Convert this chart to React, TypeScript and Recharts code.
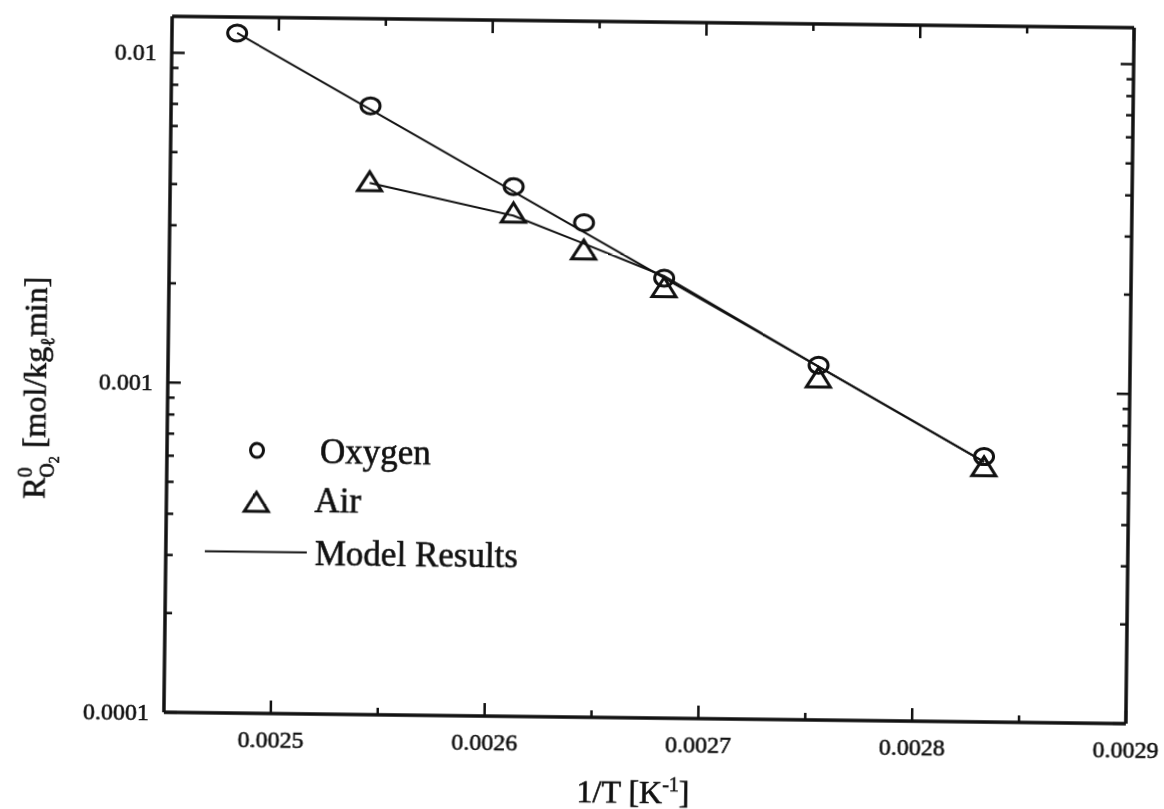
import React from 'react';
import { ComposedChart, XAxis, YAxis, Line, Scatter } from 'recharts';

// ---- data ----
const invT = [0.0024805, 0.0025433, 0.0026107, 0.0026438, 0.0026816, 0.0027543, 0.0028322];
const oxygenRate = [0.01154, 0.00702, 0.00404, 0.00316, 0.00216, 0.00119, 0.000638];
const airInvT = [0.0025433, 0.0026107, 0.0026438, 0.0026816, 0.0027543, 0.0028322];
const airRate = [0.00413, 0.00336, 0.00261, 0.00202, 0.00109, 0.000594];
const oxygenModel = [0.01154, 0.00684, 0.0039, 0.00296, 0.00216, 0.00118, 0.000615];
const airModel = [0.0041, 0.0033, 0.00273, 0.00219, 0.00118, 0.000615];

const xMajorTicks = [0.0025, 0.0026, 0.0027, 0.0028, 0.0029];
const xTickLabels = ['0.0025', '0.0026', '0.0027', '0.0028', '0.0029'];
const xMinorTicks = [0.00255, 0.00265, 0.00275, 0.00285];
const yMajorTicks = [0.0001, 0.001, 0.01];
const yTickLabels = ['0.0001', '0.001', '0.01'];
const yMinorTicks = [
  0.0002, 0.0003, 0.0004, 0.0005, 0.0006, 0.0007, 0.0008, 0.0009,
  0.002, 0.003, 0.004, 0.005, 0.006, 0.007, 0.008, 0.009,
];
const xDomain = [0.00245, 0.0029];
const yDomain = [0.0001, 0.0129];

const oxygenPoints = invT.map((x, i) => ({ x, y: oxygenRate[i] }));
const airPoints = airInvT.map((x, i) => ({ x, y: airRate[i] }));
const oxygenModelPts = invT.map((x, i) => ({ x, y: oxygenModel[i] }));
const airModelPts = airInvT.map((x, i) => ({ x, y: airModel[i] }));

const xTicksAll = [...xMajorTicks, ...xMinorTicks].sort((a, b) => a - b);
const yTicksAll = [...yMajorTicks, ...yMinorTicks].sort((a, b) => a - b);

const FONT = '"Liberation Serif", "Times New Roman", serif';
const INK = '#111';
const TEXT_STROKE = 0.6;

const majorIndex = (list: number[], v: number) =>
  list.findIndex((m) => Math.abs(v / m - 1) < 1e-6);

const XTickBottom = (props: any) => {
  const { x, y, payload } = props;
  const i = majorIndex(xMajorTicks, payload.value);
  const len = i >= 0 ? 13 : 7;
  return (
    <g>
      <line x1={x} x2={x} y1={y} y2={y - len} stroke={INK} strokeWidth={2.5} />
      {i >= 0 && (
        <text x={x} y={y + 34} textAnchor="middle" fontFamily={FONT} fontSize={24} fill={INK}
          stroke={INK} strokeWidth={TEXT_STROKE}>
          {xTickLabels[i]}
        </text>
      )}
    </g>
  );
};

const XTickTop = (props: any) => {
  const { x, y, payload } = props;
  const i = majorIndex(xMajorTicks, payload.value);
  const len = i >= 0 ? 13 : 7;
  return <line x1={x} x2={x} y1={y} y2={y + len} stroke={INK} strokeWidth={2.5} />;
};

const YTickLeft = (props: any) => {
  const { x, y, payload } = props;
  const i = majorIndex(yMajorTicks, payload.value);
  const len = i >= 0 ? 13 : 7;
  return (
    <g>
      <line x1={x} x2={x + len} y1={y} y2={y} stroke={INK} strokeWidth={2.5} />
      {i >= 0 && (
        <text x={x - 15} y={y + 8} textAnchor="end" fontFamily={FONT} fontSize={24} fill={INK}
          stroke={INK} strokeWidth={TEXT_STROKE}>
          {yTickLabels[i]}
        </text>
      )}
    </g>
  );
};

const YTickRight = (props: any) => {
  const { x, y, payload } = props;
  const i = majorIndex(yMajorTicks, payload.value);
  const len = i >= 0 ? 13 : 7;
  return <line x1={x} x2={x - len} y1={y} y2={y} stroke={INK} strokeWidth={2.5} />;
};

const CircleMark = (props: any) => {
  const { cx, cy } = props;
  return <ellipse cx={cx} cy={cy} rx={9.5} ry={8} fill="none" stroke={INK} strokeWidth={3} />;
};

const TriangleMark = (props: any) => {
  const { cx, cy } = props;
  const d = `M${cx},${cy - 10} L${cx + 12},${cy + 9} L${cx - 12},${cy + 9} Z`;
  return <path d={d} fill="none" stroke={INK} strokeWidth={3} strokeLinejoin="miter" />;
};

const axisLine = { stroke: INK, strokeWidth: 3.5 };

export default function App() {
  return (
    <div
      style={{
        position: 'fixed',
        left: 0,
        top: 0,
        width: 1164,
        height: 809,
        transform: 'rotate(0.68deg)',
        transformOrigin: '649px 370px',
      }}
    >
      <div style={{ position: 'absolute', left: 0, top: 0 }}>
        <ComposedChart width={1164} height={809} margin={{ top: 21, right: 33, bottom: 31, left: 98 }}>
          <XAxis
            xAxisId="b"
            dataKey="x"
            type="number"
            domain={xDomain}
            allowDataOverflow
            ticks={xTicksAll}
            interval={0}
            height={60}
            tickSize={0}
            tickMargin={0}
            tickLine={false}
            axisLine={axisLine}
            tick={<XTickBottom />}
          />
          <XAxis
            xAxisId="t"
            orientation="top"
            dataKey="x"
            type="number"
            domain={xDomain}
            allowDataOverflow
            ticks={xTicksAll}
            interval={0}
            height={1}
            tickSize={0}
            tickMargin={0}
            tickLine={false}
            axisLine={axisLine}
            tick={<XTickTop />}
          />
          <YAxis
            yAxisId="l"
            dataKey="y"
            type="number"
            scale="log"
            domain={yDomain}
            allowDataOverflow
            ticks={yTicksAll}
            interval={0}
            width={70}
            tickSize={0}
            tickMargin={0}
            tickLine={false}
            axisLine={axisLine}
            tick={<YTickLeft />}
          />
          <YAxis
            yAxisId="r"
            orientation="right"
            dataKey="y"
            type="number"
            scale="log"
            domain={yDomain}
            allowDataOverflow
            ticks={yTicksAll}
            interval={0}
            width={1}
            tickSize={0}
            tickMargin={0}
            tickLine={false}
            axisLine={axisLine}
            tick={<YTickRight />}
          />
          <Line
            xAxisId="b"
            yAxisId="l"
            data={oxygenModelPts}
            dataKey="y"
            type="linear"
            stroke={INK}
            strokeWidth={2}
            dot={false}
            activeDot={false}
            isAnimationActive={false}
          />
          <Line
            xAxisId="b"
            yAxisId="l"
            data={airModelPts}
            dataKey="y"
            type="linear"
            stroke={INK}
            strokeWidth={2}
            dot={false}
            activeDot={false}
            isAnimationActive={false}
          />
          <Scatter
            xAxisId="b"
            yAxisId="l"
            data={oxygenPoints}
            dataKey="y"
            shape={CircleMark}
            isAnimationActive={false}
          />
          <Scatter
            xAxisId="b"
            yAxisId="l"
            data={airPoints}
            dataKey="y"
            shape={TriangleMark}
            isAnimationActive={false}
          />
        </ComposedChart>
      </div>
      <svg
        width={1164}
        height={809}
        style={{ position: 'absolute', left: 0, top: 0, overflow: 'visible', pointerEvents: 'none' }}
      >
        {/* legend */}
        <ellipse cx={258} cy={455} rx={6.5} ry={7} fill="none" stroke={INK} strokeWidth={3} />
        <text x={321} y={467} fontFamily={FONT} fontSize={35} fill={INK} stroke={INK} strokeWidth={TEXT_STROKE}>Oxygen</text>
        <path d="M258,497 L270,516 L246,516 Z" fill="none" stroke={INK} strokeWidth={3} />
        <text x={316} y={516} fontFamily={FONT} fontSize={35} fill={INK} stroke={INK} strokeWidth={TEXT_STROKE}>Air</text>
        <line x1={207} x2={309} y1={556.5} y2={556.5} stroke={INK} strokeWidth={2} />
        <text x={317} y={569} fontFamily={FONT} fontSize={35} fill={INK} stroke={INK} strokeWidth={TEXT_STROKE}>Model Results</text>

        {/* x axis title */}
        <text x={638} y={803} textAnchor="middle" fontFamily={FONT} fontSize={32} fill={INK}
          stroke={INK} strokeWidth={TEXT_STROKE}>
          1/T [K<tspan dy={-12} fontSize={20}>-1</tspan><tspan dy={12}>]</tspan>
        </text>

        {/* y axis title */}
        <text
          x={46}
          y={395}
          transform="rotate(-90, 46, 395)"
          textAnchor="middle"
          fontFamily={FONT}
          fontSize={32}
          fill={INK}
          stroke={INK}
          strokeWidth={TEXT_STROKE}
        >
          R<tspan dy={-13} fontSize={20}>0</tspan>
          <tspan dx={-10} dy={22} fontSize={20}>O</tspan>
          <tspan dy={5} fontSize={14}>2</tspan>
          <tspan dy={-14}> [mol/kg</tspan>
          <tspan dy={8} fontSize={20}>ℓ</tspan>
          <tspan dy={-8}>min]</tspan>
        </text>
      </svg>
    </div>
  );
}
